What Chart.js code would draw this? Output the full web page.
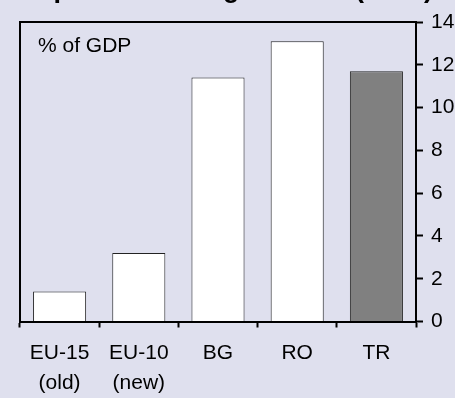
<!DOCTYPE html>
<html>
<head>
<meta charset="utf-8">
<script src="https://cdn.jsdelivr.net/npm/chart.js@4/dist/chart.umd.min.js"></script>
<style>
    html, body { margin: 0; padding: 0; background: #dfe0ee; }
    #wrap { width: 455px; height: 398px; }
</style>
</head>
<body>
<div id="wrap"><canvas id="grafico" width="455" height="398"></canvas></div>
<script>
'use strict';

// Datos
const categorias = [['EU-15', '(old)'], ['EU-10', '(new)'], 'BG', 'RO', 'TR'];
const valores = [1.4, 3.2, 11.4, 13.1, 11.7];
const colores = ['#ffffff', '#ffffff', '#ffffff', '#ffffff', '#808080'];
const ejeY = { min: 0, max: 14, paso: 2 };
const titulo = 'Importance of agriculture (2004)';
const unidad = '% of GDP';

const fuente = 'Arial, "Liberation Sans", sans-serif';

// titulo cortado arriba, marco izquierdo/superior y la unidad
const extras = {
    id: 'extras',
    afterDraw: (chart) => {
        const ctx = chart.ctx;
        const area = chart.chartArea;
        ctx.save();
        ctx.fillStyle = '#000';
        ctx.font = 'bold 27px ' + fuente;
        ctx.textAlign = 'center';
        ctx.textBaseline = 'alphabetic';
        ctx.fillText(titulo, chart.width / 2, -3.5);

        ctx.strokeStyle = '#000';
        ctx.lineWidth = 2;
        ctx.beginPath();
        ctx.moveTo(area.left, area.bottom);
        ctx.lineTo(area.left, area.top);
        ctx.lineTo(area.right + 1, area.top);
        ctx.stroke();

        ctx.font = '21px ' + fuente;
        ctx.textAlign = 'left';
        ctx.fillText(unidad, area.left + 18, 52);
        ctx.restore();
    }
};

new Chart(document.getElementById('grafico'), {
    type: 'bar',
    data: {
        labels: categorias,
        datasets: [{
            data: valores,
            backgroundColor: colores,
            borderColor: '#222',
            borderWidth: 1,
            categoryPercentage: 1,
            barPercentage: 0.67
        }]
    },
    options: {
        responsive: false,
        animation: false,
        layout: { padding: { left: 20, top: 22, right: 0, bottom: 0 } },
        plugins: {
            legend: { display: false },
            tooltip: { enabled: false },
            title: { display: false }
        },
        scales: {
            x: {
                offset: true,
                grid: {
                    offset: true,
                    drawOnChartArea: false,
                    drawTicks: true,
                    tickLength: 6,
                    tickWidth: 2,
                    tickColor: '#000'
                },
                border: { display: true, color: '#000', width: 2 },
                ticks: {
                    color: '#000',
                    font: { family: fuente, size: 21, lineHeight: 1.45 },
                    padding: 10,
                    maxRotation: 0,
                    autoSkip: false
                },
                afterFit: (scale) => { scale.height = 76.5; }
            },
            y: {
                position: 'right',
                min: ejeY.min,
                max: ejeY.max,
                grid: {
                    drawOnChartArea: false,
                    drawTicks: true,
                    tickLength: 7,
                    tickWidth: 2,
                    tickColor: '#000'
                },
                border: { display: true, color: '#000', width: 2 },
                ticks: {
                    stepSize: ejeY.paso,
                    color: '#000',
                    font: { family: fuente, size: 21 },
                    padding: 8
                },
                afterFit: (scale) => { scale.width = 39; }
            }
        }
    },
    plugins: [extras]
});
</script>
</body>
</html>
